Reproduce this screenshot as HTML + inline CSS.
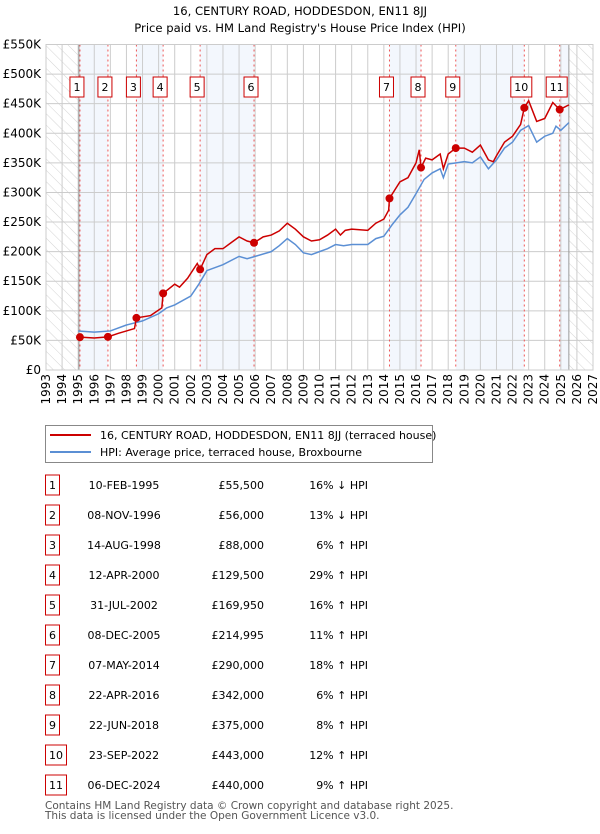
<!DOCTYPE html>
<html><head><meta charset="utf-8">
<style>
body{margin:0;background:#fff;font-family:"DejaVu Sans","Liberation Sans",sans-serif;}
svg text{font-family:"DejaVu Sans","Liberation Sans",sans-serif;}
</style></head>
<body>
<svg id="chart" width="600" height="830" xmlns="http://www.w3.org/2000/svg">
<defs>
<pattern id="hatch" width="8" height="8" patternUnits="userSpaceOnUse" patternTransform="rotate(-45)">
<line x1="0" y1="0" x2="0" y2="8" stroke="#d4d4d4" stroke-width="1"/>
</pattern>
</defs>
<text x="300" y="15" text-anchor="middle" font-size="11.6" fill="#000">16, CENTURY ROAD, HODDESDON, EN11 8JJ</text>
<text x="300" y="32" text-anchor="middle" font-size="11.6" fill="#000">Price paid vs. HM Land Registry's House Price Index (HPI)</text>
<g id="plot"></g>
<g id="legend">
<rect x="45.5" y="425.5" width="387" height="37" fill="#fff" stroke="#888"/>
<line x1="50" y1="435" x2="91" y2="435" stroke="#cc0000" stroke-width="2"/>
<text x="100" y="439" font-size="11">16, CENTURY ROAD, HODDESDON, EN11 8JJ (terraced house)</text>
<line x1="50" y1="452" x2="91" y2="452" stroke="#5b8fd4" stroke-width="2"/>
<text x="100" y="456" font-size="11">HPI: Average price, terraced house, Broxbourne</text>
</g>
<g id="table"></g>
<text x="45" y="809" font-size="10.5" fill="#555">Contains HM Land Registry data © Crown copyright and database right 2025.</text>
<text x="45" y="819" font-size="10.5" fill="#555">This data is licensed under the Open Government Licence v3.0.</text>
</svg>
<script>
const saleYears=[1995.11,1996.85,1998.62,2000.28,2002.58,2005.93,2014.35,2016.31,2018.47,2022.73,2024.93];
const saleLabels=["1","2","3","4","5","6","7","8","9","10","11"];
const salePrices=[55500,56000,88000,129500,169950,214995,290000,342000,375000,443000,440000];
const saleDates=["10-FEB-1995","08-NOV-1996","14-AUG-1998","12-APR-2000","31-JUL-2002","08-DEC-2005","07-MAY-2014","22-APR-2016","22-JUN-2018","23-SEP-2022","06-DEC-2024"];
const salePriceText=["£55,500","£56,000","£88,000","£129,500","£169,950","£214,995","£290,000","£342,000","£375,000","£443,000","£440,000"];
const saleHpiText=["16% ↓ HPI","13% ↓ HPI","6% ↑ HPI","29% ↑ HPI","16% ↑ HPI","11% ↑ HPI","18% ↑ HPI","6% ↑ HPI","8% ↑ HPI","12% ↑ HPI","9% ↑ HPI"];
const hpiYears=[1995,1996,1997,1998,1999,2000,2000.5,2001,2002,2002.5,2003,2004,2005,2005.5,2006,2007,2007.5,2008,2008.5,2009,2009.5,2010,2010.5,2011,2011.5,2012,2013,2013.5,2014,2014.5,2015,2015.5,2016,2016.5,2017,2017.5,2017.7,2018,2018.5,2019,2019.5,2020,2020.5,2021,2021.5,2022,2022.5,2023,2023.5,2024,2024.5,2024.7,2025,2025.5];
const hpiValues=[66,64,66,76,83,95,105,110,125,145,168,178,192,188,192,200,210,222,212,198,195,200,205,212,210,212,212,222,226,245,262,275,298,322,333,340,325,348,350,352,350,360,340,355,375,385,405,413,385,395,400,412,405,418];
const redYears=[1995.11,1996,1996.85,1997.5,1998.5,1998.62,1999.5,2000.2,2000.28,2001,2001.3,2001.8,2002.4,2002.58,2003,2003.5,2004,2004.5,2005,2005.5,2005.93,2006.5,2007,2007.5,2008,2008.5,2009,2009.5,2010,2010.5,2011,2011.3,2011.6,2012,2013,2013.5,2014,2014.3,2014.35,2015,2015.5,2016,2016.2,2016.31,2016.6,2017,2017.5,2017.7,2018,2018.47,2019,2019.5,2020,2020.5,2020.8,2021,2021.5,2022,2022.5,2022.73,2023,2023.5,2024,2024.5,2024.93,2025.5];
const redValues=[55.5,54,56,62,70,88,92,105,129.5,145,140,155,180,170,195,205,205,215,225,218,215,225,228,235,248,238,225,218,220,228,238,228,236,238,236,248,255,270,290,318,325,350,372,342,358,355,365,340,365,375,375,368,380,355,352,362,385,395,415,443,455,420,425,452,440,448];
const yTicks=[0,50,100,150,200,250,300,350,400,450,500,550];
const yTickLabels=["£0","£50K","£100K","£150K","£200K","£250K","£300K","£350K","£400K","£450K","£500K","£550K"];
const xTicks=[1993,1994,1995,1996,1997,1998,1999,2000,2001,2002,2003,2004,2005,2006,2007,2008,2009,2010,2011,2012,2013,2014,2015,2016,2017,2018,2019,2020,2021,2022,2023,2024,2025,2026,2027];

const L=46,R=593,T=44.5,B=370;
const X=y=>L+(y-1993)*(R-L)/34;
const Y=v=>B-v*(B-T)/550;
const NS="http://www.w3.org/2000/svg";
function mk(tag,attrs,parent,text){const e=document.createElementNS(NS,tag);for(const k in attrs)e.setAttribute(k,attrs[k]);if(text!==undefined)e.textContent=text;parent.appendChild(e);return e;}
const plot=document.getElementById('plot');
for(let i=0;i<saleYears.length;i+=2){
  const x1=X(saleYears[i]);const x2=i+1<saleYears.length?X(saleYears[i+1]):X(2025.5);
  const b=mk('rect',{x:x1,y:T,width:x2-x1,height:B-T,fill:'#eef3fc',opacity:0.7},plot);
  
  
}
const h1=mk('rect',{x:L,y:T,width:X(1995)-L,height:B-T,fill:'url(#hatch)'},plot);


const h2=mk('rect',{x:X(2025.5),y:T,width:R-X(2025.5),height:B-T,fill:'url(#hatch)'},plot);


yTicks.forEach((v,i)=>{
  const g=mk('line',{x1:L,x2:R,y1:Y(v),y2:Y(v),stroke:'#ccc','stroke-width':1},plot);
  
  
  const t=mk('text',{x:L-5,y:Y(v)+4,'text-anchor':'end','font-size':12},plot,yTickLabels[i]);
  
  
});
xTicks.forEach(yr=>{
  const g=mk('line',{x1:X(yr),x2:X(yr),y1:T,y2:B,stroke:'#ccc','stroke-width':1},plot);
  
  
  const t=mk('text',{x:X(yr)+4,y:B+4,'text-anchor':'end','font-size':12,transform:`rotate(-90 ${X(yr)+4} ${B+4})`},plot,String(yr));
  
  
});
mk('line',{x1:X(1995.05),x2:X(1995.05),y1:T,y2:B,stroke:'#999'},plot);
mk('line',{x1:X(2025.5),x2:X(2025.5),y1:T,y2:B,stroke:'#999'},plot);
saleYears.forEach(yr=>{
  const l=mk('line',{x1:X(yr),x2:X(yr),y1:T,y2:B,stroke:'#e55','stroke-width':1,'stroke-dasharray':'2,3'},plot);
  
  
});
const hp=mk('polyline',{points:hpiYears.map((y,i)=>X(y)+','+Y(hpiValues[i])).join(' '),fill:'none',stroke:'#5b8fd4','stroke-width':1.5},plot);


const rp=mk('polyline',{points:redYears.map((y,i)=>X(y)+','+Y(redValues[i])).join(' '),fill:'none',stroke:'#cc0000','stroke-width':1.5},plot);


saleYears.forEach((yr,i)=>{
  const c=mk('circle',{cx:X(yr),cy:Y(salePrices[i]/1000),r:4,fill:'#cc0000'},plot);
  
  
  const w=saleLabels[i].length>1?21:14;
  const bx=mk('rect',{x:X(yr)-w/2-3,y:77,width:w,height:20,fill:'#fff',stroke:'#cc0000'},plot);
  
  
  const t=mk('text',{x:X(yr)-3,y:91,'text-anchor':'middle','font-size':11},plot,saleLabels[i]);
  
  
});
mk('rect',{x:L,y:T,width:R-L,height:B-T,fill:'none',stroke:'#ccc'},plot);
const tb=document.getElementById('table');
saleLabels.forEach((lab,i)=>{
  const cy=485+i*30;
  const w=lab.length>1?21:14;
  const bx=mk('rect',{x:45.5,y:cy-10,width:w,height:20,fill:'#fff',stroke:'#cc0000'},tb);
  
  
  const n=mk('text',{x:45.5+w/2,y:cy+4,'text-anchor':'middle','font-size':11},tb,lab);
  
  
  const d=mk('text',{x:124,y:cy+4,'text-anchor':'middle','font-size':11},tb,saleDates[i]);
  
  
  const p=mk('text',{x:264,y:cy+4,'text-anchor':'end','font-size':11},tb,salePriceText[i]);
  
  
  const hh=mk('text',{x:368,y:cy+4,'text-anchor':'end','font-size':11},tb,saleHpiText[i]);
  
  
});
</script>
</body></html>
